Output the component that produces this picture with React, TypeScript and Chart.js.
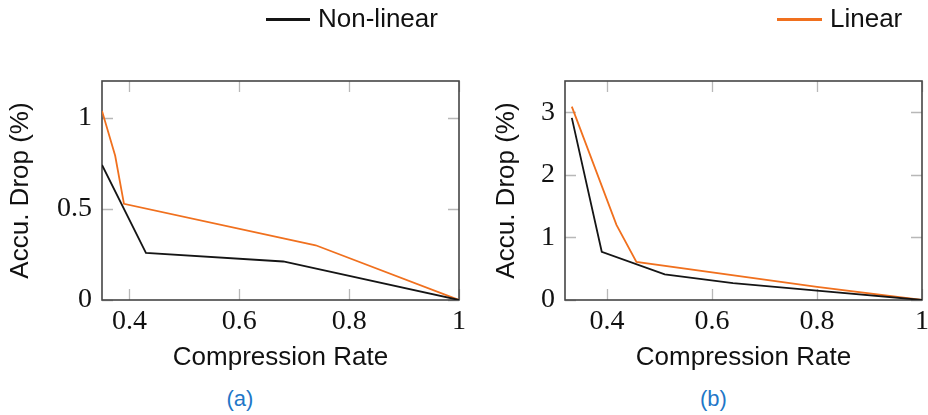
import React, { useEffect, useRef } from 'react';
import { Chart, registerables } from 'chart.js';

Chart.register(...registerables);

// ---------- data ----------
const seriesNames = ['Non-linear', 'Linear'];
const seriesColors = ['#151515', '#f0701e'];

const aNonLinearX = [0.35, 0.43, 0.68, 1];
const aNonLinearY = [0.74, 0.258, 0.211, 0];
const aLinearX = [0.35, 0.374, 0.39, 0.739, 1];
const aLinearY = [1.036, 0.79, 0.527, 0.3, 0];

const bNonLinearX = [0.333, 0.39, 0.51, 0.64, 0.8, 1];
const bNonLinearY = [2.91, 0.77, 0.41, 0.27, 0.15, 0];
const bLinearX = [0.333, 0.418, 0.456, 0.8, 1];
const bLinearY = [3.09, 1.2, 0.61, 0.21, 0];

const xTicks = [0.4, 0.6, 0.8, 1];
const xTickLabels = ['0.4', '0.6', '0.8', '1'];
const aYTicks = [0, 0.5, 1];
const aYTickLabels = ['0', '0.5', '1'];
const bYTicks = [0, 1, 2, 3];
const bYTickLabels = ['0', '1', '2', '3'];

const captions = ['(a)', '(b)'];
const xTitle = 'Compression Rate';
const yTitle = 'Accu. Drop (%)';

const SANS = "'Liberation Sans', Arial, sans-serif";
const SERIF = "'Liberation Serif', 'Times New Roman', serif";

const toPoints = (xs: number[], ys: number[]) => xs.map((x, i) => ({ x, y: ys[i] }));

const frameTicksPlugin = {
  id: 'frameTicks',
  beforeDatasetsDraw(chart: any) {
    const { ctx, chartArea } = chart;
    const { left, right, top, bottom } = chartArea;
    const xs = chart.scales.x;
    const ys = chart.scales.y;
    const TL = 11;
    ctx.save();
    ctx.strokeStyle = '#b8b8b8';
    ctx.lineWidth = 1.3;
    ctx.beginPath();
    xs.ticks.forEach((t: any) => {
      const px = Math.round(xs.getPixelForValue(t.value)) + 0.5;
      ctx.moveTo(px, bottom);
      ctx.lineTo(px, bottom - TL);
      ctx.moveTo(px, top);
      ctx.lineTo(px, top + TL);
    });
    ys.ticks.forEach((t: any) => {
      const py = Math.round(ys.getPixelForValue(t.value)) + 0.5;
      ctx.moveTo(left, py);
      ctx.lineTo(left + TL, py);
      ctx.moveTo(right, py);
      ctx.lineTo(right - TL, py);
    });
    ctx.stroke();
    ctx.strokeStyle = '#454545';
    ctx.lineWidth = 1.6;
    ctx.strokeRect(left, top, right - left, bottom - top);
    ctx.restore();
  },
};

type PanelCfg = {
  nlX: number[];
  nlY: number[];
  lX: number[];
  lY: number[];
  xMin: number;
  yMax: number;
  yTicks: number[];
  yTickLabels: string[];
  yAxisWidth: number;
  padRight: number;
  padTop: number;
  yTitlePad: number;
};

function makeConfig(p: PanelCfg): any {
  return {
    type: 'line',
    data: {
      datasets: [
        {
          label: seriesNames[0],
          data: toPoints(p.nlX, p.nlY),
          borderColor: seriesColors[0],
          backgroundColor: seriesColors[0],
          borderWidth: 1.8,
          pointRadius: 0,
          tension: 0,
          fill: false,
        },
        {
          label: seriesNames[1],
          data: toPoints(p.lX, p.lY),
          borderColor: seriesColors[1],
          backgroundColor: seriesColors[1],
          borderWidth: 1.8,
          pointRadius: 0,
          tension: 0,
          fill: false,
        },
      ],
    },
    options: {
      responsive: false,
      animation: false,
      devicePixelRatio: 1,
      layout: { padding: { left: 0, top: p.padTop, right: p.padRight, bottom: 0 } },
      plugins: {
        legend: { display: false },
        tooltip: { enabled: false },
        title: { display: false },
      },
      scales: {
        x: {
          type: 'linear',
          min: p.xMin,
          max: 1,
          afterBuildTicks: (s: any) => {
            s.ticks = xTicks.map((v) => ({ value: v }));
          },
          afterFit: (s: any) => {
            s.height = 80;
          },
          grid: { display: false, drawTicks: false },
          border: { display: false },
          ticks: {
            font: { family: SERIF, size: 28 },
            color: '#111',
            padding: 5,
            maxRotation: 0,
            callback: (v: number) => xTickLabels[xTicks.indexOf(v)],
          },
          title: {
            display: true,
            text: xTitle,
            font: { family: SANS, size: 26 },
            color: '#111',
            padding: { top: 0, bottom: 7 },
          },
        },
        y: {
          type: 'linear',
          min: 0,
          max: p.yMax,
          afterBuildTicks: (s: any) => {
            s.ticks = p.yTicks.map((v) => ({ value: v }));
          },
          afterFit: (s: any) => {
            s.width = p.yAxisWidth;
          },
          grid: { display: false, drawTicks: false },
          border: { display: false },
          ticks: {
            font: { family: SERIF, size: 28 },
            color: '#111',
            padding: 10,
            callback: (v: number) => p.yTickLabels[p.yTicks.indexOf(v)],
          },
          title: {
            display: true,
            text: yTitle,
            font: { family: SANS, size: 26 },
            color: '#111',
            padding: { top: p.yTitlePad, bottom: 0 },
          },
        },
      },
    },
    plugins: [frameTicksPlugin],
  };
}

function Panel(props: { cfg: PanelCfg; left: number; width: number; height: number }) {
  const ref = useRef<HTMLCanvasElement | null>(null);
  useEffect(() => {
    if (!ref.current) return;
    const chart = new Chart(ref.current, makeConfig(props.cfg));
    return () => chart.destroy();
  }, []);
  return (
    <canvas
      ref={ref}
      width={props.width}
      height={props.height}
      style={{ position: 'absolute', left: props.left, top: 0, width: props.width, height: props.height }}
    />
  );
}

function LegendItem(props: { left: number; lineWidth: number; color: string; text: string }) {
  return (
    <div style={{ position: 'absolute', left: props.left, top: 5, height: 26, display: 'flex', alignItems: 'center' }}>
      <div style={{ width: props.lineWidth, height: 2.2, background: props.color, marginRight: 8, marginTop: 3 }} />
      <span style={{ fontFamily: SANS, fontSize: 26, lineHeight: '26px', color: '#111', whiteSpace: 'nowrap' }}>
        {props.text}
      </span>
    </div>
  );
}

function Caption(props: { center: number; text: string }) {
  return (
    <div
      style={{
        position: 'absolute',
        left: props.center - 50,
        width: 100,
        top: 388,
        textAlign: 'center',
        fontFamily: SANS,
        fontSize: 22,
        lineHeight: '22px',
        color: '#1f77c8',
      }}
    >
      {props.text}
    </div>
  );
}

export default function App() {
  const cfgA: PanelCfg = {
    nlX: aNonLinearX,
    nlY: aNonLinearY,
    lX: aLinearX,
    lY: aLinearY,
    xMin: 0.35,
    yMax: 1.2,
    yTicks: aYTicks,
    yTickLabels: aYTickLabels,
    yAxisWidth: 102,
    padRight: 17,
    padTop: 81,
    yTitlePad: 5,
  };
  const cfgB: PanelCfg = {
    nlX: bNonLinearX,
    nlY: bNonLinearY,
    lX: bLinearX,
    lY: bLinearY,
    xMin: 0.32,
    yMax: 3.5,
    yTicks: bYTicks,
    yTickLabels: bYTickLabels,
    yAxisWidth: 95,
    padRight: 13,
    padTop: 81,
    yTitlePad: 21,
  };
  return (
    <div
      style={{
        position: 'absolute',
        left: 0,
        top: 0,
        width: 928,
        height: 415,
        overflow: 'hidden',
        background: '#fff',
      }}
    >
      <Panel cfg={cfgA} left={0} width={476} height={380} />
      <Panel cfg={cfgB} left={470} width={465} height={380} />
      <LegendItem left={266} lineWidth={44} color={seriesColors[0]} text={seriesNames[0]} />
      <LegendItem left={777} lineWidth={45} color={seriesColors[1]} text={seriesNames[1]} />
      <Caption center={240} text={captions[0]} />
      <Caption center={713.5} text={captions[1]} />
    </div>
  );
}
